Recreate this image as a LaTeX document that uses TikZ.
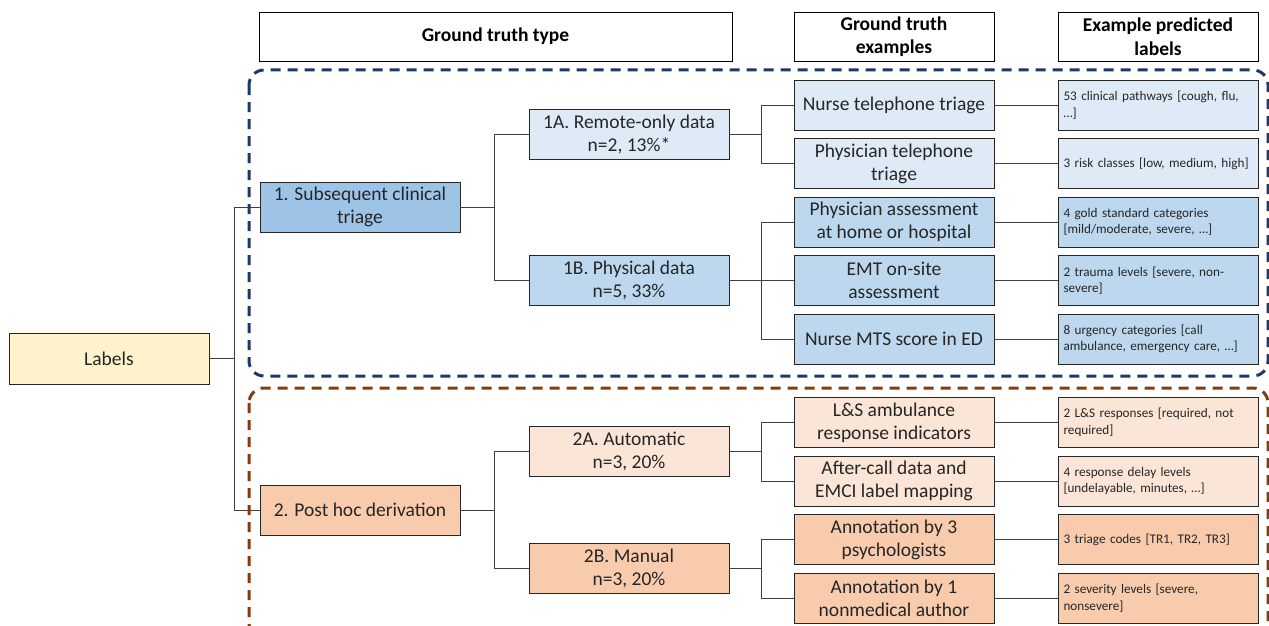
\documentclass[tikz,border=0pt]{standalone}
\usepackage{fontspec}
\setmainfont{Carlito}
\usepackage{xcolor}
\usepackage{tikz}
\usetikzlibrary{positioning,calc}

\definecolor{labelfill}{HTML}{FFF2CC}
\definecolor{triagedark}{HTML}{9DC3E6}
\definecolor{triagemid}{HTML}{BDD7EE}
\definecolor{triagelight}{HTML}{DEEBF7}
\definecolor{posthocdark}{HTML}{F8CBAD}
\definecolor{posthoclight}{HTML}{FBE5D6}
\definecolor{frameblue}{HTML}{203864}
\definecolor{framebrown}{HTML}{843C0C}

\begin{document}
\begin{tikzpicture}[x = 1pt, y = -1pt, node distance = 8.5pt]
            \tikzstyle{box} = [rectangle, draw=black!85, line width=0.8pt, text=black!85, minimum height=50pt, inner sep=0pt, outer sep=0pt, align=center, font=\fontsize{19.5}{23}\selectfont];
            \tikzstyle{gtbox} = [box, minimum width=200pt];
            \tikzstyle{predbox} = [box, text width=189pt, inner xsep=5.5pt, align=left, font=\fontsize{13.2}{16.5}\selectfont];
            \tikzstyle{header} = [rectangle, draw=black, line width=0.8pt, fill=white, minimum height=49pt, outer sep=0pt, align=center, font=\bfseries\fontsize{19.5}{23.5}\selectfont];
            \tikzstyle{link} = [draw=black!75, line width=0.9pt];
            \tikzstyle{frame} = [line width=3pt, dash pattern=on 10pt off 7pt, rounded corners=15pt];

            \useasboundingbox (0,0) rectangle (1269,626);

            \node [gtbox, fill=triagelight] (E1) at (894,105) {Nurse telephone triage};
            \node [gtbox, fill=triagelight, below = of E1] (E2) {Physician telephone\\triage};
            \node [gtbox, fill=triagemid, below = of E2] (E3) {Physician assessment\\at home or hospital};
            \node [gtbox, fill=triagemid, below = of E3] (E4) {EMT on-site\\assessment};
            \node [gtbox, fill=triagemid, below = of E4] (E5) {Nurse MTS score in ED};
            \node [gtbox, fill=posthoclight, below = 33.5pt of E5] (E6) {L\&S ambulance\\response indicators};
            \node [gtbox, fill=posthoclight, below = of E6] (E7) {After-call data and\\EMCI label mapping};
            \node [gtbox, fill=posthocdark, below = of E7] (E8) {Annotation by 3\\psychologists};
            \node [gtbox, fill=posthocdark, below = of E8] (E9) {Annotation by 1\\nonmedical author};

            \node [predbox, fill=triagelight, right = 64pt of E1] (P1) {53 clinical pathways [cough, flu,\\…]};
            \node [predbox, fill=triagelight, right = 64pt of E2] (P2) {3 risk classes [low, medium, high]};
            \node [predbox, fill=triagemid, right = 64pt of E3] (P3) {4 gold standard categories\\{[}mild/moderate, severe, …]};
            \node [predbox, fill=triagemid, right = 64pt of E4] (P4) {2 trauma levels [severe, non-\\severe]};
            \node [predbox, fill=triagemid, right = 64pt of E5] (P5) {8 urgency categories [call\\ambulance, emergency care, …]};
            \node [predbox, fill=posthoclight, right = 64pt of E6] (P6) {2 L\&S responses [required, not\\required]};
            \node [predbox, fill=posthoclight, right = 64pt of E7] (P7) {4 response delay levels\\{[}undelayable, minutes, …]};
            \node [predbox, fill=posthocdark, right = 64pt of E8] (P8) {3 triage codes [TR1, TR2, TR3]};
            \node [predbox, fill=posthocdark, right = 64pt of E9] (P9) {2 severity levels [severe,\\nonsevere]};

            \node [gtbox, fill=triagelight, anchor=east] (G1A) at ($(E1.west)!0.5!(E2.west) + (-65pt,0)$) {1A. Remote-only data\\n=2, 13\%*};
            \node [gtbox, fill=triagemid, left = 65pt of E4] (G1B) {1B. Physical data\\n=5, 33\%};
            \node [gtbox, fill=posthoclight, anchor=east] (G2A) at ($(E6.west)!0.5!(E7.west) + (-65pt,0)$) {2A. Automatic\\n=3, 20\%};
            \node [gtbox, fill=posthocdark, anchor=east] (G2B) at ($(E8.west)!0.5!(E9.west) + (-65pt,0)$) {2B. Manual\\n=3, 20\%};

            \node [gtbox, fill=triagedark, anchor=east] (G1) at ($(G1A.west)!0.5!(G1B.west) + (-69pt,0)$) {1. Subsequent clinical\\triage};
            \node [gtbox, fill=posthocdark, anchor=east] (G2) at ($(G2A.west)!0.5!(G2B.west) + (-69pt,0)$) {2. Post hoc derivation};

            \node [gtbox, fill=labelfill, minimum height=51pt, anchor=east] (L) at ($(G1.west)!0.5!(G2.west) + (-51pt,0)$) {Labels};

            \node [header, minimum width=473pt] (H1) at (495.5,36.5) {Ground truth type};
            \node [header, minimum width=200pt, above = 19pt of E1] (H2) {Ground truth\\examples};
            \node [header, minimum width=200pt, above = 19pt of P1] (H3) {Example predicted\\labels};

            \foreach \g in {G1, G2}
                \draw [link] (L.east) -- ++(25.5pt,0) |- (\g.west);
            \foreach \g in {G1A, G1B}
                \draw [link] (G1.east) -- ++(34.5pt,0) |- (\g.west);
            \foreach \g in {G2A, G2B}
                \draw [link] (G2.east) -- ++(34.5pt,0) |- (\g.west);
            \foreach \i in {1, 2}
                \draw [link] (G1A.east) -- ++(32.5pt,0) |- (E\i.west);
            \foreach \i in {3, 4, 5}
                \draw [link] (G1B.east) -- ++(32.5pt,0) |- (E\i.west);
            \foreach \i in {6, 7}
                \draw [link] (G2A.east) -- ++(32.5pt,0) |- (E\i.west);
            \foreach \i in {8, 9}
                \draw [link] (G2B.east) -- ++(32.5pt,0) |- (E\i.west);
            \foreach \i in {1, ..., 9}
                \draw [link] (E\i) -- (P\i);

            \draw [frame, frameblue] (249,70) rectangle (1268,376);
            \draw [frame, framebrown] (249,388) rectangle (1268,638);
\end{tikzpicture}
\end{document}
